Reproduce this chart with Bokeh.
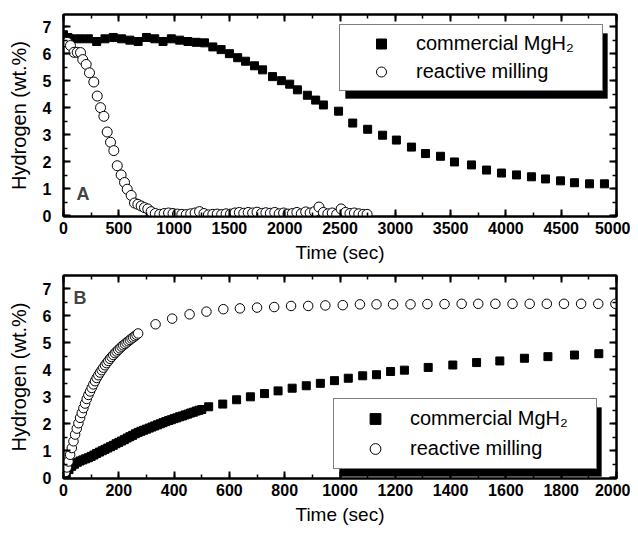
from bokeh.plotting import figure
from bokeh.layouts import column
from bokeh.models import (Range1d, LinearAxis, SingleIntervalTicker, Legend,
                          LegendItem, Label, BoxAnnotation, CustomJSTickFormatter)
from bokeh.embed import file_html
from bokeh.resources import INLINE

FONT = "Liberation Sans"

# ---------------- Panel A: desorption ----------------
a_comm_t = [0, 15, 40, 75, 150, 225, 300, 375, 450, 525, 600, 675, 750, 825, 900,
            975, 1050, 1125, 1200, 1275, 1350, 1425, 1500, 1575, 1646, 1727, 1800,
            1890, 1970, 2045, 2115, 2205, 2280, 2350, 2487, 2615, 2750, 2885, 3010,
            3146, 3273, 3409, 3535, 3689, 3825, 3960, 4096, 4231, 4358, 4494, 4620,
            4756, 4891]
a_comm_h = [6.7, 6.45, 6.6, 6.55, 6.55, 6.55, 6.45, 6.55, 6.6, 6.55, 6.5, 6.45,
            6.6, 6.55, 6.45, 6.55, 6.5, 6.45, 6.42, 6.4, 6.25, 6.15, 6.0, 5.85,
            5.72, 5.55, 5.4, 5.15, 5.0, 4.87, 4.66, 4.46, 4.28, 4.1, 3.87, 3.43,
            3.2, 2.98, 2.8, 2.54, 2.3, 2.2, 1.99, 1.88, 1.69, 1.58, 1.51, 1.44,
            1.36, 1.29, 1.22, 1.18, 1.18]

a_rm_t = [33, 63, 95, 124, 154, 174, 205, 235, 274, 305, 335, 365, 395, 425, 455,
          486, 521, 552, 576, 612, 642, 672, 702, 732, 762, 792, 830, 870, 910, 950,
          990, 1030, 1070, 1110, 1150, 1190, 1230, 1270, 1310, 1350, 1390, 1430,
          1470, 1510, 1550, 1590, 1630, 1670, 1710, 1750, 1790, 1830, 1870, 1910,
          1950, 1990, 2030, 2070, 2110, 2150, 2190, 2230, 2270, 2310, 2350, 2390,
          2430, 2470, 2510, 2550, 2590, 2630, 2670, 2710, 2745]
a_rm_h = [6.42, 6.3, 6.05, 6.05, 6.04, 5.78, 5.6, 5.29, 4.95, 4.43, 4.0, 3.68, 3.1,
          2.72, 2.41, 1.85, 1.51, 1.23, 0.98, 0.75, 0.47, 0.42, 0.36, 0.3, 0.25,
          0.15, 0.08, 0.05, 0.08, 0.1, 0.08, 0.06, 0.05, 0.04, 0.07, 0.1, 0.15,
          0.08, 0.03, 0.05, 0.06, 0.04, 0.07, 0.06, 0.1, 0.12, 0.09, 0.12, 0.1,
          0.13, 0.08, 0.11, 0.09, 0.12, 0.07, 0.1, 0.06, 0.08, 0.12, 0.07, 0.14,
          0.1, 0.15, 0.32, 0.12, 0.07, 0.1, 0.05, 0.25, 0.12, 0.08, 0.1, 0.07,
          0.05, 0.05]

# ---------------- Panel B: absorption ----------------
b_comm_t = [10, 20, 30, 40, 50, 60, 70, 80, 90, 100, 110, 120, 130, 140, 150, 160,
            170, 180, 190, 200, 210, 220, 230, 240, 250, 260, 270, 280, 290, 300,
            310, 320, 330, 340, 350, 360, 370, 380, 390, 400, 410, 420, 430, 440,
            450, 460, 470, 480, 490, 500, 525, 576, 626, 676, 727, 776, 827, 878,
            929, 980, 1030, 1082, 1132, 1183, 1233, 1319, 1408, 1494, 1578, 1667,
            1752, 1848, 1936]
b_comm_h = [0.15, 0.3, 0.42, 0.5, 0.57, 0.62, 0.66, 0.7, 0.74, 0.79, 0.84, 0.9,
            0.95, 1.0, 1.05, 1.1, 1.15, 1.2, 1.26, 1.31, 1.36, 1.41, 1.47, 1.52,
            1.57, 1.63, 1.68, 1.72, 1.76, 1.8, 1.84, 1.88, 1.92, 1.96, 2.0, 2.04,
            2.08, 2.12, 2.15, 2.19, 2.22, 2.26, 2.29, 2.33, 2.36, 2.4, 2.43, 2.47,
            2.5, 2.53, 2.63, 2.73, 2.89, 3.0, 3.12, 3.22, 3.32, 3.41, 3.5, 3.6,
            3.69, 3.78, 3.82, 3.94, 3.99, 4.09, 4.18, 4.27, 4.33, 4.43, 4.49, 4.55,
            4.6]

b_rm_t = [6, 12, 18, 24, 30, 36, 42, 48, 54, 60, 66, 72, 78, 84, 90, 96, 102, 108,
          114, 120, 126, 132, 138, 144, 150, 156, 162, 168, 174, 180, 186, 192,
          198, 204, 210, 216, 222, 228, 234, 240, 246, 252, 258, 264, 270, 333,
          393, 456, 517, 578, 638, 700, 762, 823, 885, 947, 1010, 1072, 1132,
          1192, 1255, 1316, 1378, 1440, 1500, 1562, 1624, 1686, 1748, 1810, 1872,
          1934, 1996]
b_rm_h = [0.2, 0.38, 0.6, 0.85, 1.1, 1.35, 1.6, 1.82, 2.02, 2.22, 2.4, 2.58, 2.75,
          2.92, 3.07, 3.2, 3.33, 3.46, 3.58, 3.7, 3.8, 3.9, 3.99, 4.08, 4.17, 4.25,
          4.33, 4.41, 4.48, 4.55, 4.62, 4.68, 4.74, 4.8, 4.86, 4.91, 4.96, 5.01,
          5.06, 5.11, 5.16, 5.2, 5.25, 5.3, 5.35, 5.69, 5.9, 6.06, 6.16, 6.25,
          6.28, 6.31, 6.33, 6.37, 6.37, 6.39, 6.4, 6.43, 6.43, 6.43, 6.43, 6.44,
          6.44, 6.45, 6.45, 6.45, 6.45, 6.45, 6.45, 6.45, 6.45, 6.45, 6.45]

labels = ["commercial MgH\u2082", "reactive milling"]
x_title = "Time (sec)"
y_title = "Hydrogen (wt.%)"


def tick_style(ax):
    ax.major_tick_in = 7
    ax.major_tick_out = 0
    ax.minor_tick_in = 4
    ax.minor_tick_out = 0
    ax.axis_line_width = 2
    ax.major_tick_line_width = 2
    ax.minor_tick_line_width = 1.5


def style(p, xint):
    p.grid.visible = False
    p.outline_line_color = "black"
    p.outline_line_width = 2
    p.background_fill_color = "white"
    p.border_fill_color = "white"
    for ax in p.xaxis:
        ax.ticker = SingleIntervalTicker(interval=xint, num_minor_ticks=2)
    for ax in p.yaxis:
        ax.ticker = SingleIntervalTicker(interval=1, num_minor_ticks=2)
    for ax in list(p.xaxis) + list(p.yaxis):
        tick_style(ax)
        ax.major_label_text_font = FONT
        ax.major_label_text_font_style = "bold"
        ax.major_label_text_font_size = "16px"
        ax.major_label_text_color = "black"
        ax.axis_label_text_font = FONT
        ax.axis_label_text_font_style = "normal"
        ax.axis_label_text_color = "black"
    for ax in p.xaxis:
        ax.axis_label_text_font_size = "19px"
    for ax in p.yaxis:
        ax.axis_label_text_font_size = "20px"
    # mirrored axes: ticks only, no labels
    top = LinearAxis(ticker=SingleIntervalTicker(interval=xint, num_minor_ticks=2))
    right = LinearAxis(ticker=SingleIntervalTicker(interval=1, num_minor_ticks=2))
    for ax in (top, right):
        tick_style(ax)
        ax.formatter = CustomJSTickFormatter(code="return ''")
        ax.major_label_text_font_size = "0px"
        ax.major_label_standoff = 0
    p.add_layout(top, "above")
    p.add_layout(right, "right")


def add_legend(p, rs, loc, label_h, spacing):
    pad = 6
    gw = 70
    lw = 180
    width = pad + gw + lw + pad
    height = pad + label_h + spacing + label_h + pad
    shadow = BoxAnnotation(left=loc[0] + 6, right=loc[0] + 6 + width,
                           bottom=loc[1] - 7, top=loc[1] - 7 + height,
                           left_units="screen", right_units="screen",
                           bottom_units="screen", top_units="screen",
                           fill_color="black", fill_alpha=1, line_color="black")
    p.add_layout(shadow)
    lg = Legend(items=[LegendItem(label=labels[0], renderers=[rs[0]]),
                       LegendItem(label=labels[1], renderers=[rs[1]])])
    lg.location = loc
    lg.label_text_font = FONT
    lg.label_text_font_size = "20px"
    lg.label_text_color = "black"
    lg.padding = pad
    lg.spacing = spacing
    lg.glyph_width = gw
    lg.glyph_height = label_h
    lg.label_height = label_h
    lg.label_standoff = 0
    lg.label_width = lw
    lg.margin = 0
    lg.border_line_color = "black"
    lg.border_line_width = 1.5
    lg.background_fill_color = "white"
    lg.background_fill_alpha = 1
    p.add_layout(lg)


# Bokeh's page template removes the body margin, so the canvas starts at (0, 0).
# ---- figure A ----  (canvas 630 x 272: frame 553 x 202 at left 63, top 14)
p1 = figure(width=630, height=272, x_range=Range1d(0, 5000),
            y_range=Range1d(-0.03, 7.45), output_backend="svg",
            toolbar_location=None, min_border_left=63, min_border_right=14,
            min_border_top=14, min_border_bottom=56,
            x_axis_label=x_title, y_axis_label=y_title)
r1 = p1.scatter(a_comm_t, a_comm_h, marker="square", size=8, color="black")
r2 = p1.scatter(a_rm_t, a_rm_h, marker="circle", size=10, fill_color="white",
                line_color="black", line_width=1)
style(p1, 500)
p1.xaxis[0].major_label_standoff = 21
p1.xaxis[0].axis_label_standoff = 0
p1.yaxis[0].major_label_standoff = 12
p1.yaxis[0].axis_label_standoff = 10
add_legend(p1, [r1, r2], (276, 125), 25, 3)
p1.add_layout(Label(x=118, y=0.45, text="A", text_font=FONT,
                    text_font_style="bold", text_font_size="18px"))

# ---- figure B ----  (canvas 630 x 271: frame 553 x 203 at left 63, top 3)
p2 = figure(width=630, height=271, x_range=Range1d(0, 2000),
            y_range=Range1d(-0.03, 7.5), output_backend="svg",
            toolbar_location=None, min_border_left=63, min_border_right=14,
            min_border_top=3, min_border_bottom=65,
            x_axis_label=x_title, y_axis_label=y_title)
r3 = p2.scatter(b_comm_t, b_comm_h, marker="square", size=8, color="black")
r4 = p2.scatter(b_rm_t, b_rm_h, marker="circle", size=9.5, fill_color="white",
                line_color="black", line_width=1)
style(p2, 200)
p2.xaxis[0].major_label_standoff = 17
p2.xaxis[0].axis_label_standoff = 16
p2.yaxis[0].major_label_standoff = 12
p2.yaxis[0].axis_label_standoff = 10
add_legend(p2, [r3, r4], (270, 9), 27, 3)
p2.add_layout(Label(x=36, y=6.31, text="B", text_font=FONT,
                    text_font_style="bold", text_font_size="18px"))

layout = column(p1, p2, spacing=0)
open("out.html", "w").write(file_html(layout, INLINE))
